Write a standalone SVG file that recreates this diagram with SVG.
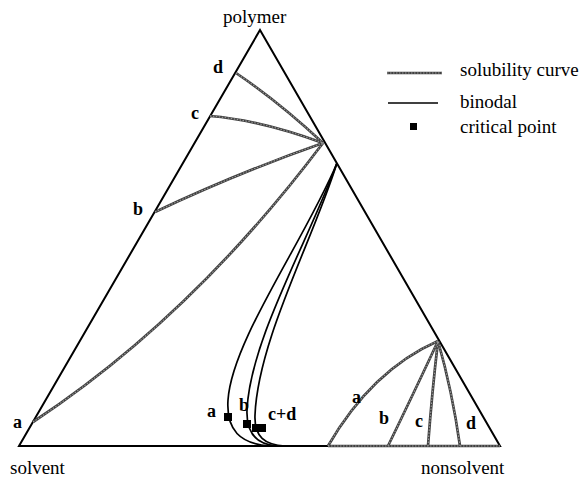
<svg xmlns="http://www.w3.org/2000/svg" width="584" height="479" viewBox="0 0 584 479">
<style>
.edge{fill:none;stroke:#000;stroke-width:2;stroke-linejoin:miter}
.sol{fill:none;stroke:#404040;stroke-width:2.7}
.solt{fill:none;stroke:#9a9a9a;stroke-width:1.1;stroke-dasharray:1.5 1.5}
.bin{fill:none;stroke:#000;stroke-width:1.7}
text{font-family:"Liberation Serif","Times New Roman",Times,serif;fill:#000}
.lbl{font-size:19px}
.tag{font-size:18px;font-weight:bold}
</style>
<rect width="584" height="479" fill="#fff"/>
<g id="triangle">
<path class="edge" d="M19,446 L260,30 L500,446 Z"/>
</g>
<g id="connectors">
<g id="solubility-curves">
<path class="sol" d="M33,422 Q192,317 323,143"/>
<path class="sol" d="M155,212 Q240,172 323,143"/>
<path class="sol" d="M210,116 Q260,120 323,143"/>
<path class="sol" d="M236,73 Q279,102 323,143"/>
<path class="sol" d="M328,446 Q372,370 438,341"/>
<path class="sol" d="M388,446 Q420,380 438,341"/>
<path class="sol" d="M428,446 Q432,392 438,341"/>
<path class="sol" d="M460,446 Q452,390 438,341"/>
<path class="sol" d="M328,446 L500,446"/>
<path class="solt" d="M33,422 Q192,317 323,143"/>
<path class="solt" d="M155,212 Q240,172 323,143"/>
<path class="solt" d="M210,116 Q260,120 323,143"/>
<path class="solt" d="M236,73 Q279,102 323,143"/>
<path class="solt" d="M328,446 Q372,370 438,341"/>
<path class="solt" d="M388,446 Q420,380 438,341"/>
<path class="solt" d="M428,446 Q432,392 438,341"/>
<path class="solt" d="M460,446 Q452,390 438,341"/>
<path class="solt" d="M328,446 L500,446"/>
</g>
<g id="binodals">
<path class="bin" d="M337,163 C305,240 232,340 228,400 C226,430 240,444 270,446"/>
<path class="bin" d="M337,163 C309,240 250,340 247,410 C246,435 258,445 278,446"/>
<path class="bin" d="M337,163 C313,240 258,340 255,415 C254,437 265,445 285,446"/>
</g>
</g>
<g id="critical-points" fill="#000">
<rect x="224" y="413" width="8" height="8"/>
<rect x="243" y="420" width="8" height="8"/>
<rect x="252" y="424" width="14" height="8"/>
</g>
<g id="vertex-labels">
<text class="lbl" x="223" y="23" font-family="Liberation Serif, serif">polymer</text>
<text class="lbl" x="10" y="474" font-family="Liberation Serif, serif">solvent</text>
<text class="lbl" x="421" y="474" font-family="Liberation Serif, serif">nonsolvent</text>
</g>
<g id="curve-labels" font-family="Liberation Serif, serif">
<text class="tag" x="13" y="428">a</text>
<text class="tag" x="133" y="215">b</text>
<text class="tag" x="191" y="119">c</text>
<text class="tag" x="213" y="73">d</text>
<text class="tag" x="207" y="417">a</text>
<text class="tag" x="239" y="411">b</text>
<text class="tag" x="268" y="420">c+d</text>
<text class="tag" x="352" y="403">a</text>
<text class="tag" x="379" y="424">b</text>
<text class="tag" x="415" y="427">c</text>
<text class="tag" x="466" y="429">d</text>
</g>
<g id="legend">
<path class="sol" d="M387,73 L442,73"/>
<path class="solt" d="M387,73 L442,73"/>
<path class="bin" d="M388,103 L438,103"/>
<rect x="410" y="123" width="7" height="7" fill="#000"/>
<text class="lbl" x="460" y="76">solubility curve</text>
<text class="lbl" x="460" y="108">binodal</text>
<text class="lbl" x="460" y="133">critical point</text>
</g>
</svg>
